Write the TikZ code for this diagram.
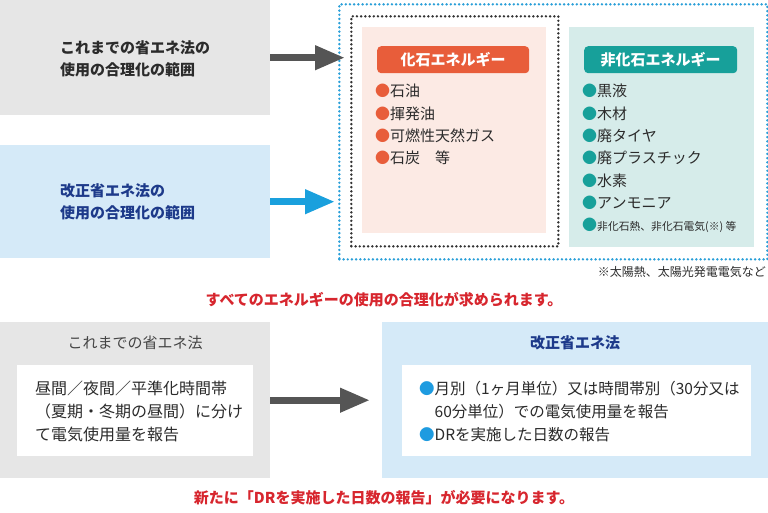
\documentclass[tikz,border=0pt]{standalone}
\usepackage{fontspec}
\setmainfont{Noto Sans CJK JP}
\usepackage{tikz}
\usetikzlibrary{arrows.meta,positioning}
\definecolor{BoxGrey}{HTML}{E6E6E6}
\definecolor{BoxBlue}{HTML}{D5EAF8}
\definecolor{Navy}{HTML}{1D3A8A}
\definecolor{TextDark}{HTML}{2B2B2B}
\definecolor{TextGrey}{HTML}{444444}
\definecolor{ArrowGrey}{HTML}{555555}
\definecolor{ArrowBlue}{HTML}{1AA0DD}
\definecolor{FrameBlue}{HTML}{2A9FD8}
\definecolor{FrameBlack}{HTML}{333333}
\definecolor{FossilBg}{HTML}{FCEAE4}
\definecolor{Fossil}{HTML}{E85D3A}
\definecolor{NonFossilBg}{HTML}{D6ECEA}
\definecolor{NonFossil}{HTML}{17A09A}
\definecolor{Alert}{HTML}{D7262E}
\definecolor{Bullet}{HTML}{1E9BE0}

\begin{document}
\begin{tikzpicture}[x=1pt,y=-1pt,font=\fontsize{15}{22}\selectfont,
  panel/.style={anchor=north west,inner sep=0pt},
  txt/.style={inner sep=0pt,align=left},
  bold/.style={font=\fontsize{15}{22}\selectfont\bfseries},
  dotframe/.style={panel,draw=#1,line width=2.7pt,line cap=round,dash pattern=on 0pt off 4.2pt},
  fatarrow/.style={line width=7pt,-{Triangle[length=30pt,width=23pt]}}]
  \useasboundingbox (0,0) rectangle (768,512);
  % upper half: scope of the law
  \node[panel,fill=BoxGrey,minimum width=270pt,minimum height=115pt] (oldscope) at (0,0) {};
  \node[txt,bold,anchor=west,text=TextDark] (oldscopetxt) at (60,59) {これまでの省エネ法の\\使用の合理化の範囲};
  \node[panel,fill=BoxBlue,minimum width=270pt,minimum height=113pt] (newscope) at (0,145) {};
  \node[txt,bold,anchor=west,text=Navy] (newscopetxt) at (60,202) {改正省エネ法の\\使用の合理化の範囲};
  \node[dotframe=FrameBlue,minimum width=428pt,minimum height=255pt] (allfuel) at (338,3) {};
  \node[dotframe=FrameBlack,minimum width=207pt,minimum height=230pt] (fossilframe) at (350,15) {};
  \node[panel,fill=FossilBg,minimum width=184pt,minimum height=206pt] (fossilbox) at (362,27) {};
  \node[panel,fill=NonFossilBg,minimum width=185pt,minimum height=220pt] (nonfossilbox) at (569,27) {};
  \node[panel,bold,fill=Fossil,rounded corners=4pt,minimum width=152pt,minimum height=27pt,text=white] (fossilhead) at (377,46) {化石エネルギー};
  \node[panel,bold,fill=NonFossil,rounded corners=4pt,minimum width=153pt,minimum height=27pt,text=white] (nonfossilhead) at (584,46) {非化石エネルギー};
  \node[txt,anchor=north west,text=TextDark,font=\fontsize{15}{22.3}\selectfont] (fossillist) at (375,84)
    {\textcolor{Fossil}{●}石油\\\textcolor{Fossil}{●}揮発油\\\textcolor{Fossil}{●}可燃性天然ガス\\\textcolor{Fossil}{●}石炭　等};
  \node[txt,anchor=north west,text=TextDark,font=\fontsize{15}{22.3}\selectfont] (nonfossillist) at (582,84)
    {\textcolor{NonFossil}{●}黒液\\\textcolor{NonFossil}{●}木材\\\textcolor{NonFossil}{●}廃タイヤ\\\textcolor{NonFossil}{●}廃プラスチック\\\textcolor{NonFossil}{●}水素\\\textcolor{NonFossil}{●}アンモニア\\\textcolor{NonFossil}{●}{\fontsize{10.8}{12}\selectfont 非化石熱、非化石電気(※) 等}};
  \node[txt,anchor=east,text=TextDark,font=\fontsize{12}{14}\selectfont] (footnote) at (766,272) {※太陽熱、太陽光発電電気など};
  \draw[fatarrow,ArrowGrey,shorten >=5pt] (oldscope.east) -- (oldscope.east -| fossilframe.west);
  \draw[fatarrow,ArrowBlue,shorten >=3pt] (newscope.east) -- (newscope.east -| allfuel.west);
  \node[txt,bold,text=Alert] (allfuelnote) at (384,300) {すべてのエネルギーの使用の合理化が求められます。};
  % lower half: electricity report
  \node[panel,fill=BoxGrey,minimum width=270pt,minimum height=156pt] (oldreport) at (0,322) {};
  \node[txt,text=TextGrey] (oldreporttitle) at (135,343) {これまでの省エネ法};
  \node[panel,fill=white,minimum width=236pt,minimum height=91pt] (oldreportbox) at (17,365) {};
  \node[txt,anchor=north west,text=TextDark,font=\fontsize{16}{23}\selectfont] (oldreporttxt) at (35,381)
    {昼間／夜間／平準化時間帯\\（夏期・冬期の昼間）に分け\\て電気使用量を報告};
  \node[panel,fill=BoxBlue,minimum width=386pt,minimum height=156pt] (newreport) at (382,322) {};
  \node[txt,bold,text=Navy] (newreporttitle) at (575,343) {改正省エネ法};
  \node[panel,fill=white,minimum width=349pt,minimum height=91pt] (newreportbox) at (402,365) {};
  \node[txt,anchor=north west,text=TextDark,font=\fontsize{15.5}{23}\selectfont] (newreporttxt) at (419,381)
    {\textcolor{Bullet}{●}月別（1ヶ月単位）又は時間帯別（30分又は\\\hspace*{1em}60分単位）での電気使用量を報告\\\textcolor{Bullet}{●}DRを実施した日数の報告};
  \draw[fatarrow,ArrowGrey,shorten >=12pt] (oldreport.east) -- (oldreport.east -| newreport.west);
  \node[txt,bold,text=Alert] (drnote) at (384,498) {新たに「DRを実施した日数の報告」が必要になります。};
\end{tikzpicture}
\end{document}
